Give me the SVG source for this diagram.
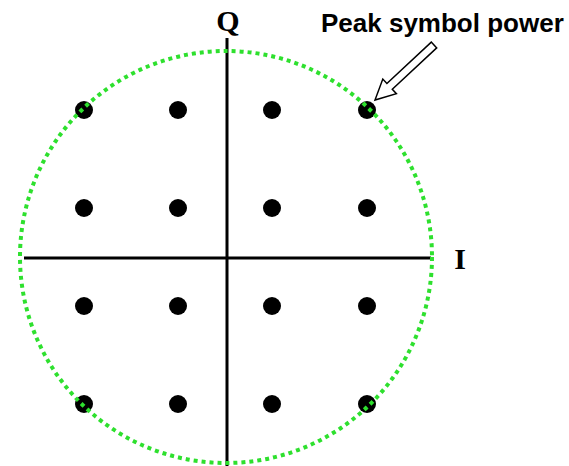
<svg xmlns="http://www.w3.org/2000/svg" width="569" height="466" viewBox="0 0 569 466">
<style>
.axis{stroke:#000;stroke-width:3;fill:none}
.pt{fill:#000}
.ring{fill:none;stroke:#2ee02e;stroke-width:4;stroke-dasharray:4 4}
.axl{font-family:"Liberation Serif",serif;font-weight:bold;font-size:30px;fill:#000}
.lbl{font-family:"Liberation Sans",Arial,sans-serif;font-weight:bold;font-size:26px;fill:#000}
</style>
<rect width="569" height="466" fill="#fff"/>
<g id="axes">
<line class="axis" x1="227" y1="38" x2="227" y2="466"/>
<line class="axis" x1="24" y1="258" x2="431" y2="258"/>
</g>
<g id="constellation">
<circle class="pt" cx="84" cy="110" r="9"/><circle class="pt" cx="178" cy="110" r="9"/><circle class="pt" cx="272" cy="110" r="9"/><circle class="pt" cx="367" cy="110" r="9"/>
<circle class="pt" cx="84" cy="208" r="9"/><circle class="pt" cx="178" cy="208" r="9"/><circle class="pt" cx="272" cy="208" r="9"/><circle class="pt" cx="367" cy="208" r="9"/>
<circle class="pt" cx="84" cy="306" r="9"/><circle class="pt" cx="178" cy="306" r="9"/><circle class="pt" cx="272" cy="306" r="9"/><circle class="pt" cx="367" cy="306" r="9"/>
<circle class="pt" cx="84" cy="404" r="9"/><circle class="pt" cx="178" cy="404" r="9"/><circle class="pt" cx="272" cy="404" r="9"/><circle class="pt" cx="367" cy="404" r="9"/>
</g>
<g id="peak-circle">
<circle class="ring" cx="226" cy="257" r="206"/>
</g>
<g id="labels">
<text class="axl" x="228" y="31" text-anchor="middle">Q</text>
<text class="axl" x="460" y="269" text-anchor="middle">I</text>
<text class="lbl" x="321" y="32">Peak symbol power</text>
</g>
<g id="connectors">
<polygon points="431.3,42.1 386.9,83.5 382.8,79.1 375,100 396.4,93.7 392.3,89.3 436.7,47.9" fill="#fff" stroke="#000" stroke-width="1.5" stroke-linejoin="miter"/>
</g>
</svg>
